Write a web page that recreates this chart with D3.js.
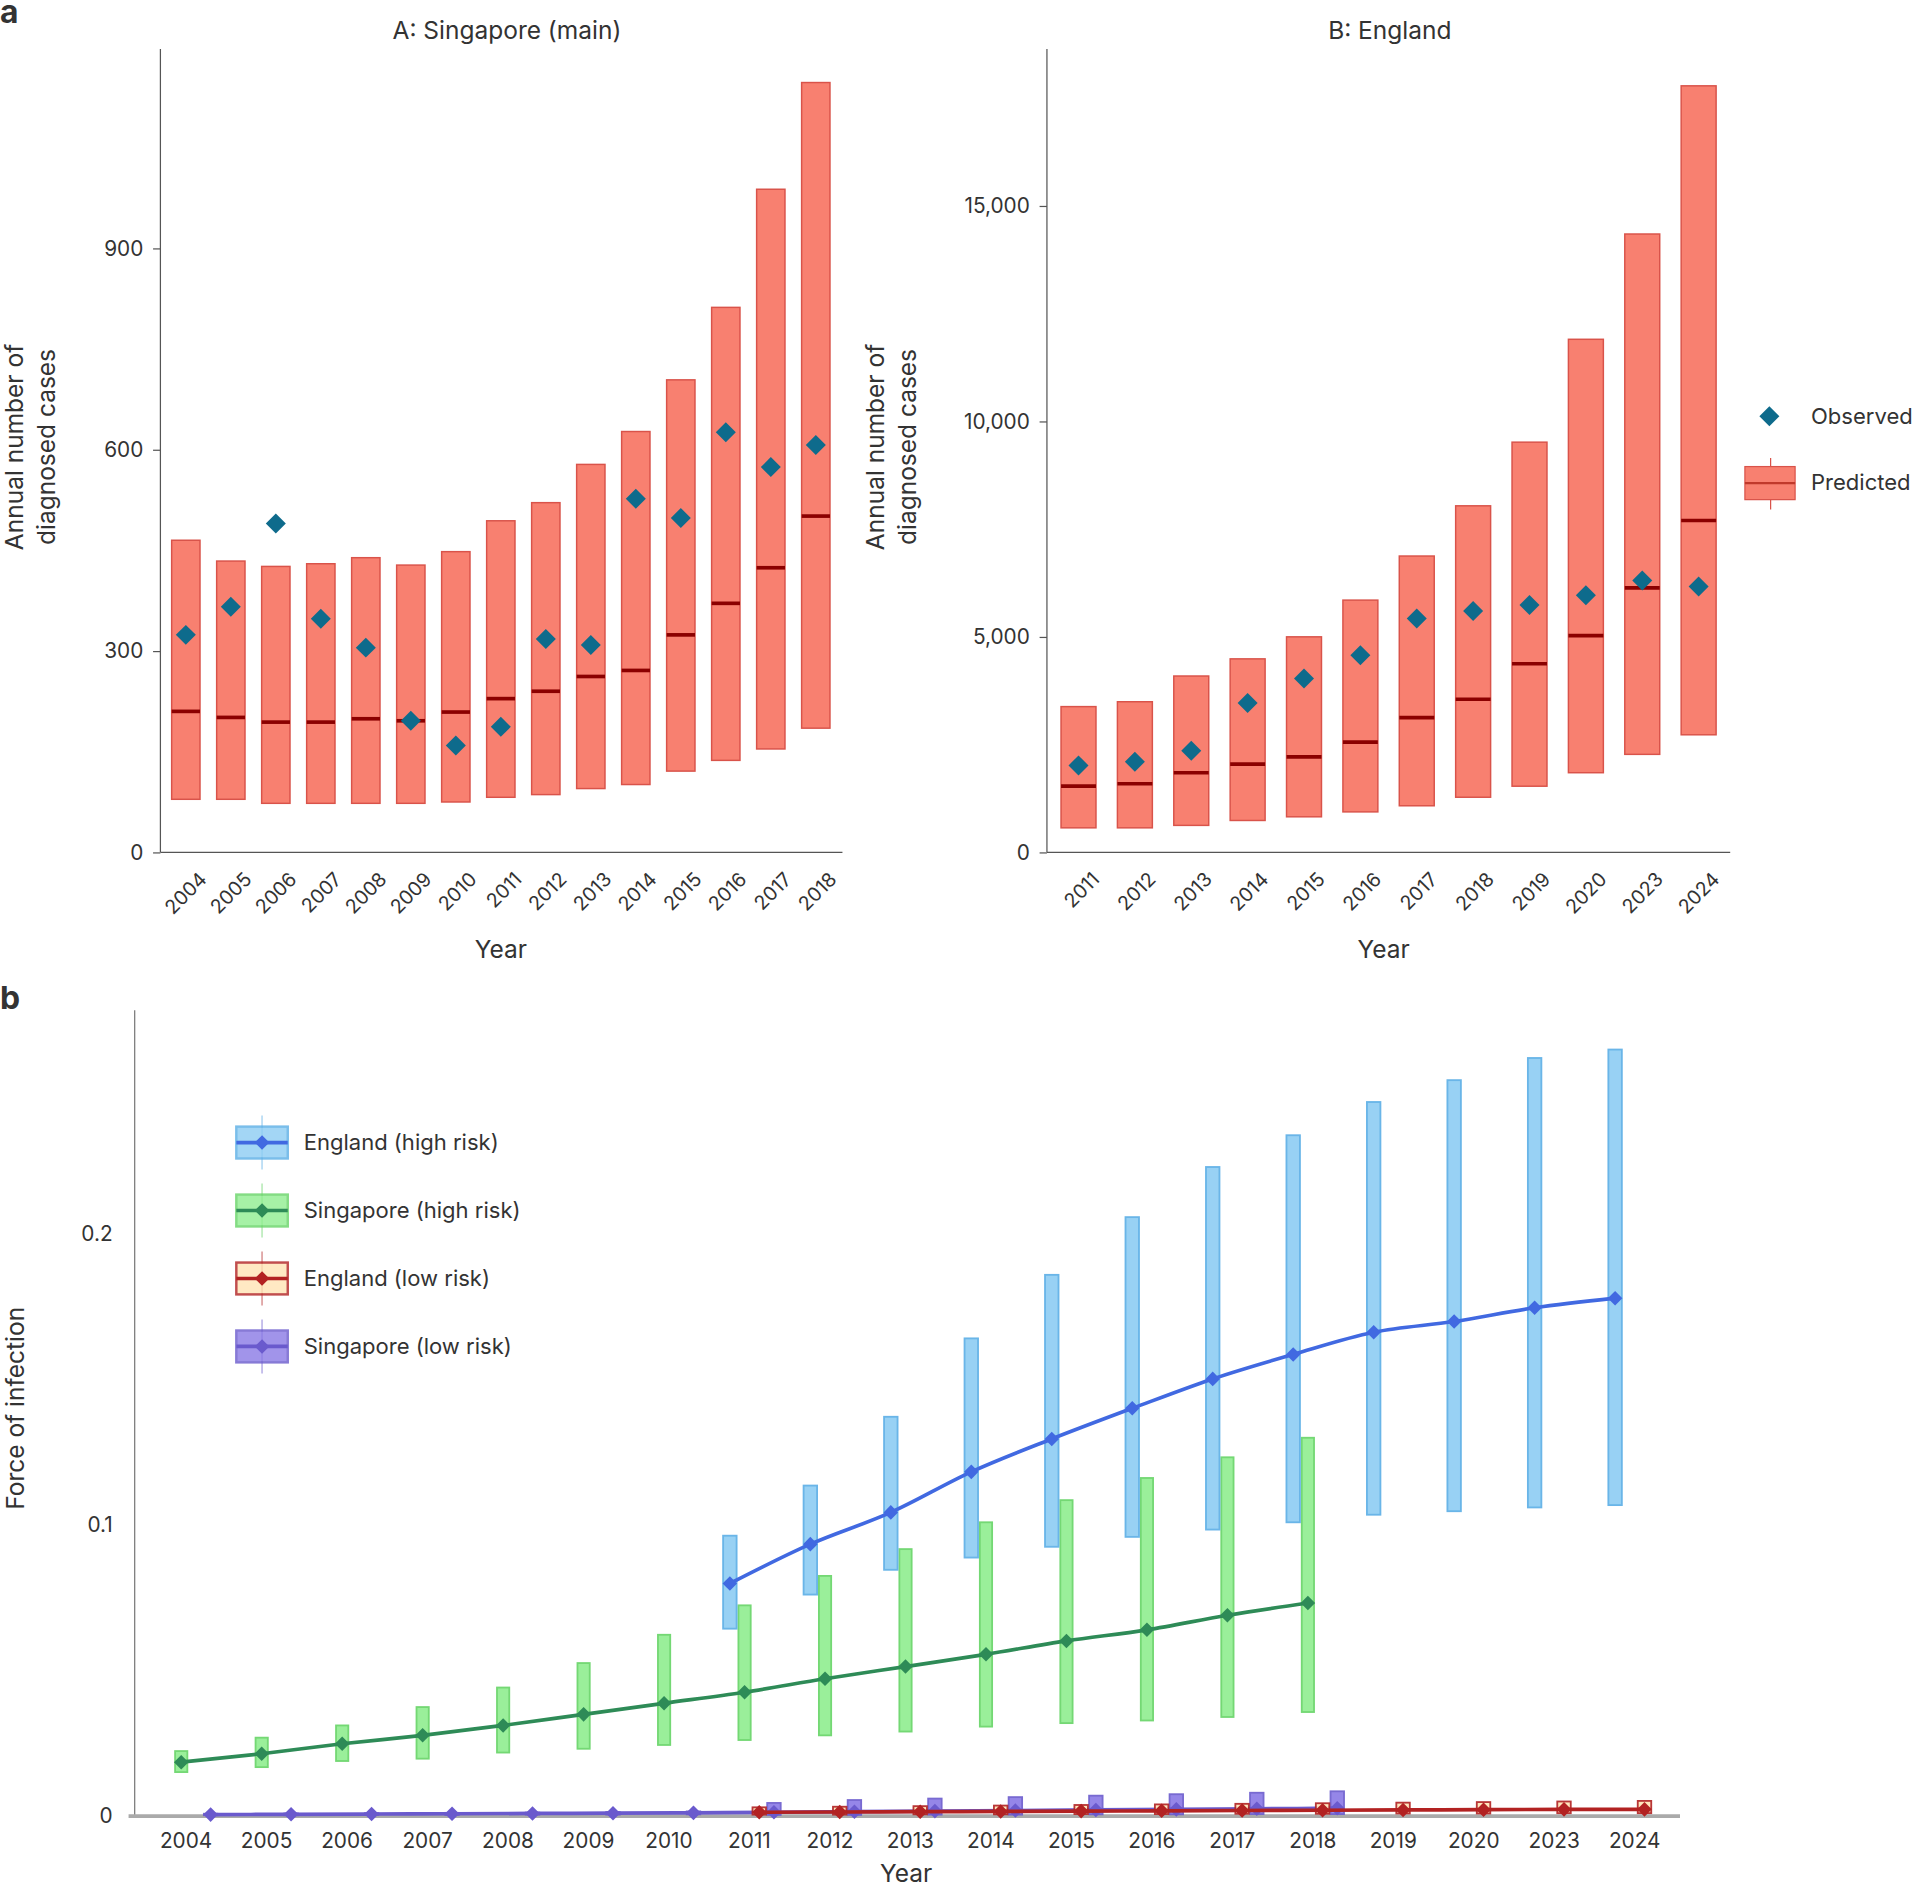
<!DOCTYPE html>
<html>
<head>
<meta charset="utf-8">
<script src="https://cdn.jsdelivr.net/npm/d3@7"></script>
<style>
  body { margin: 0; background: #fff; }
  text { font-family: Inter, "Noto Sans", sans-serif; fill: #333; }
</style>
</head>
<body>
<div id="chart"></div>
<script>
// panel A: Singapore
const sgYears = ['2004','2005','2006','2007','2008','2009','2010','2011','2012','2013','2014','2015','2016','2017','2018'];
const sgHi  = [465,434,426,430,439,428,448,494,521,578,627,704,812,988,1147];
const sgLo  = [79,79,73,73,73,73,75,82,86,95,101,121,137,154,185];
const sgMed = [210,201,194,194,199,196,209,229,240,262,271,324,371,424,501];
const sgObs = [324,366,490,348,305,196,159,187,318,309,527,498,626,574,607];

// panel B: England
const enYears = ['2011','2012','2013','2014','2015','2016','2017','2018','2019','2020','2023','2024'];
const enHi  = [3381,3494,4091,4489,5000,5852,6875,8040,9517,11904,14347,17785];
const enLo  = [568,568,625,739,824,938,1080,1278,1534,1847,2273,2727];
const enMed = [1534,1591,1847,2046,2216,2557,3125,3551,4375,5029,6137,7699];
const enObs = [2017,2102,2358,3466,4034,4574,5426,5597,5739,5966,6307,6165];

// panel b: force of infection
const foiYears = ['2004','2005','2006','2007','2008','2009','2010','2011','2012','2013','2014','2015','2016','2017','2018','2019','2020','2023','2024'];
const sgHighMean = [.0185,.0214,.0248,.0277,.0311,.0349,.0387,.0425,.0471,.0513,.0555,.0601,.0639,.0689,.0731];
const sgHighHi   = [.0223,.0269,.0311,.0374,.0441,.0525,.0622,.0723,.0824,.0916,.1008,.1084,.116,.1231,.1298];
const sgHighLo   = [.0151,.0168,.0189,.0197,.0218,.0231,.0244,.0261,.0277,.029,.0307,.0319,.0328,.034,.0357];
const enHighMean = [.0798,.0933,.1042,.1181,.1294,.1399,.15,.1584,.166,.1697,.1744,.1777];
const enHighHi   = [.0962,.1134,.137,.1639,.1857,.2055,.2227,.2336,.245,.2525,.2601,.263];
const enHighLo   = [.0643,.076,.0845,.0887,.0924,.0958,.0983,.1008,.1034,.1046,.1059,.1067];
const sgLowMean = [.0005,.0006,.0007,.0008,.0009,.001,.0011,.0013,.0015,.0017,.0019,.0021,.0023,.0025,.0027];
const sgLowHi   = [.0008,.0009,.001,.0011,.0012,.0014,.0016,.0045,.0055,.006,.0065,.007,.0075,.008,.0085];
const sgLowLo   = [.0003,.0003,.0004,.0004,.0005,.0005,.0006,.0004,.0004,.0005,.0005,.0006,.0006,.0007,.0007];
const enLowMean = [.0013,.0014,.0015,.0016,.0017,.0018,.0019,.002,.0021,.0022,.0023,.0023];
const enLowHi   = [.003,.0032,.0034,.0036,.0038,.004,.0042,.0044,.0046,.0048,.005,.0052];
const enLowLo   = [.0005,.0005,.0006,.0006,.0007,.0007,.0008,.0008,.0009,.0009,.001,.001];

const svg = d3.select('#chart').append('svg')
  .attr('width', 1920).attr('height', 1892)
  .attr('viewBox', '0 0 1568 1545')
  .attr('preserveAspectRatio', 'none');

const diamond = d3.symbol().type(d3.symbolDiamond2);

function boxPanel(years, hi, lo, med, obs, opt) {
  let g = svg.append('g');
  let x = d3.scaleBand().domain(years).range([opt.x0, opt.x1]).paddingInner(opt.pad).paddingOuter(0.25);
  let y = d3.scaleLinear().domain([0, opt.ymax]).range([696, 40]);

  g.append('g').attr('transform', 'translate(' + opt.axisX + ',0)')
    .call(d3.axisLeft(y).tickValues(opt.ticks).tickFormat(opt.fmt).tickSize(6).tickPadding(8))
    .call(a => a.select('.domain').attr('d', `M0,40V696`))
    .call(a => a.selectAll('text').style('font-size', '17px').attr('fill', '#333'))
    .call(a => a.selectAll('line,path').attr('stroke', '#555'));

  let xa = g.append('g').attr('transform', 'translate(0,696)');
  xa.append('line').attr('x1', opt.axisX).attr('x2', opt.axisEnd).attr('stroke', '#555');
  xa.selectAll('text').data(years).join('text')
    .attr('transform', d => `translate(${x(d) + x.bandwidth() / 2 + 9},${14}) rotate(-45)`)
    .attr('text-anchor', 'end').attr('dy', '0.8em').style('font-size', '16px').text(d => d);

  years.forEach((yr, i) => {
    g.append('rect').attr('x', x(yr)).attr('width', x.bandwidth())
      .attr('y', y(hi[i])).attr('height', y(lo[i]) - y(hi[i]))
      .attr('fill', '#f88070').attr('stroke', '#d9534a').attr('stroke-width', 1.2);
    g.append('line').attr('x1', x(yr)).attr('x2', x(yr) + x.bandwidth())
      .attr('y1', y(med[i])).attr('y2', y(med[i]))
      .attr('stroke', '#8b0000').attr('stroke-width', 3);
  });
  years.forEach((yr, i) => {
    g.append('path').attr('d', diamond.size(170)())
      .attr('transform', `translate(${x(yr) + x.bandwidth() / 2},${y(obs[i])})`)
      .attr('fill', '#0e6b8c');
  });

  g.append('text').attr('x', opt.titleX).attr('y', 32).attr('text-anchor', 'middle')
    .style('font-size', '20px').text(opt.title);
  g.append('text').attr('x', opt.titleX - 5).attr('y', 782).attr('text-anchor', 'middle')
    .style('font-size', '20px').text('Year');
  let yl = g.append('text').attr('transform', `translate(${opt.ylabX},365) rotate(-90)`)
    .attr('text-anchor', 'middle').style('font-size', '20px');
  yl.append('tspan').attr('x', 0).attr('dy', 0).text('Annual number of');
  yl.append('tspan').attr('x', 0).attr('dy', 26).text('diagnosed cases');
}

boxPanel(sgYears, sgHi, sgLo, sgMed, sgObs, {
  x0: 131, x1: 687, pad: 0.37, ymax: 1197, axisX: 131, axisEnd: 688,
  ticks: [0, 300, 600, 900], fmt: d3.format('d'), title: 'A: Singapore (main)',
  titleX: 414, ylabX: 19
});
boxPanel(enYears, enHi, enLo, enMed, enObs, {
  x0: 855, x1: 1413, pad: 0.38, ymax: 18640, axisX: 855, axisEnd: 1413,
  ticks: [0, 5000, 10000, 15000], fmt: d3.format(','), title: 'B: England',
  titleX: 1135, ylabX: 722
});

// legend for panel a
svg.append('path').attr('d', diamond.size(170)()).attr('transform', 'translate(1445,340)').attr('fill', '#0e6b8c');
svg.append('text').attr('x', 1479).attr('y', 346).style('font-size', '18px').text('Observed');
svg.append('line').attr('x1', 1446).attr('x2', 1446).attr('y1', 374).attr('y2', 416).attr('stroke', '#d9534a');
svg.append('rect').attr('x', 1425).attr('y', 381).attr('width', 41).attr('height', 27)
  .attr('fill', '#f88070').attr('stroke', '#d9534a');
svg.append('line').attr('x1', 1425).attr('x2', 1466).attr('y1', 394.5).attr('y2', 394.5).attr('stroke', '#c0392b').attr('stroke-width', 2);
svg.append('text').attr('x', 1479).attr('y', 400).style('font-size', '18px').text('Predicted');

svg.append('text').attr('x', 0).attr('y', 19).style('font-size', '26px').style('font-weight', 'bold').attr('fill', '#000').text('a');
svg.append('text').attr('x', 0).attr('y', 824).style('font-size', '26px').style('font-weight', 'bold').attr('fill', '#000').text('b');

// panel b
const gb = svg.append('g');
const xb = d3.scalePoint().domain(foiYears).range([152, 1335]);
const yb = d3.scaleLinear().domain([0, 0.2]).range([1483, 1007]);

gb.append('line').attr('x1', 110).attr('x2', 110).attr('y1', 825).attr('y2', 1483).attr('stroke', '#777');
gb.append('line').attr('x1', 105).attr('x2', 1372).attr('y1', 1483).attr('y2', 1483).attr('stroke', '#aaa').attr('stroke-width', 3);
gb.selectAll('.yt').data([0, 0.1, 0.2]).join('text')
  .attr('x', 92).attr('y', d => yb(d) + 6).attr('text-anchor', 'end').style('font-size', '17px')
  .text(d => d === 0 ? '0' : d3.format('.1f')(d));
gb.selectAll('.xt').data(foiYears).join('text')
  .attr('x', d => xb(d)).attr('y', 1509).attr('text-anchor', 'middle').style('font-size', '17px').text(d => d);
gb.append('text').attr('x', 740).attr('y', 1537).attr('text-anchor', 'middle').style('font-size', '20px').text('Year');
gb.append('text').attr('transform', 'translate(20,1150) rotate(-90)').attr('text-anchor', 'middle')
  .style('font-size', '20px').text('Force of infection');

const series = [
  { name: 'England (high risk)', years: foiYears.slice(7), mean: enHighMean, hi: enHighHi, lo: enHighLo,
    dx: -16, w: 11, fill: '#8dcdf3', stroke: '#5aaee6', line: '#4169e1' },
  { name: 'Singapore (high risk)', years: foiYears.slice(0, 15), mean: sgHighMean, hi: sgHighHi, lo: sgHighLo,
    dx: -4, w: 10, fill: '#90ee90', stroke: '#66d466', line: '#2e8b57' },
  { name: 'England (low risk)', years: foiYears.slice(7), mean: enLowMean, hi: enLowHi, lo: enLowLo,
    dx: 8, w: 11, fill: '#ffe4b5', stroke: '#b22222', line: '#b22222' },
  { name: 'Singapore (low risk)', years: foiYears.slice(0, 15), mean: sgLowMean, hi: sgLowHi, lo: sgLowLo,
    dx: 20, w: 11, fill: '#8a7ae6', stroke: '#6a5acd', line: '#6a5acd' }
];

// draw in order so that high-risk sits on top
[series[3], series[2], series[1], series[0]].forEach(s => {
  let g = gb.append('g');
  s.years.forEach((yr, i) => {
    g.append('rect').attr('x', xb(yr) + s.dx - s.w / 2).attr('width', s.w)
      .attr('y', yb(s.hi[i])).attr('height', Math.max(1, yb(s.lo[i]) - yb(s.hi[i])))
      .attr('fill', s.fill).attr('stroke', s.stroke).attr('stroke-width', 1.5).attr('opacity', 0.9);
  });
  g.append('path').datum(s.mean)
    .attr('d', d3.line().x((d, i) => xb(s.years[i]) + s.dx).y(d => yb(d)).curve(d3.curveMonotoneX))
    .attr('fill', 'none').attr('stroke', s.line).attr('stroke-width', 3);
  s.mean.forEach((d, i) => {
    g.append('path').attr('d', diamond.size(90)())
      .attr('transform', `translate(${xb(s.years[i]) + s.dx},${yb(d)})`).attr('fill', s.line);
  });
});

// legend for panel b
series.forEach((s, i) => {
  let cy = 933 + i * 55.5;
  let g = gb.append('g');
  g.append('line').attr('x1', 214).attr('x2', 214).attr('y1', cy - 22).attr('y2', cy + 22).attr('stroke', s.stroke).attr('opacity', 0.6);
  g.append('rect').attr('x', 193).attr('y', cy - 13).attr('width', 42).attr('height', 26)
    .attr('fill', s.fill).attr('stroke', s.stroke).attr('stroke-width', 2).attr('opacity', 0.8);
  g.append('line').attr('x1', 193).attr('x2', 235).attr('y1', cy).attr('y2', cy).attr('stroke', s.line).attr('stroke-width', 3);
  g.append('path').attr('d', diamond.size(90)()).attr('transform', `translate(214,${cy})`).attr('fill', s.line);
  g.append('text').attr('x', 248).attr('y', cy + 6).style('font-size', '18px').text(s.name);
});
</script>
</body>
</html>
